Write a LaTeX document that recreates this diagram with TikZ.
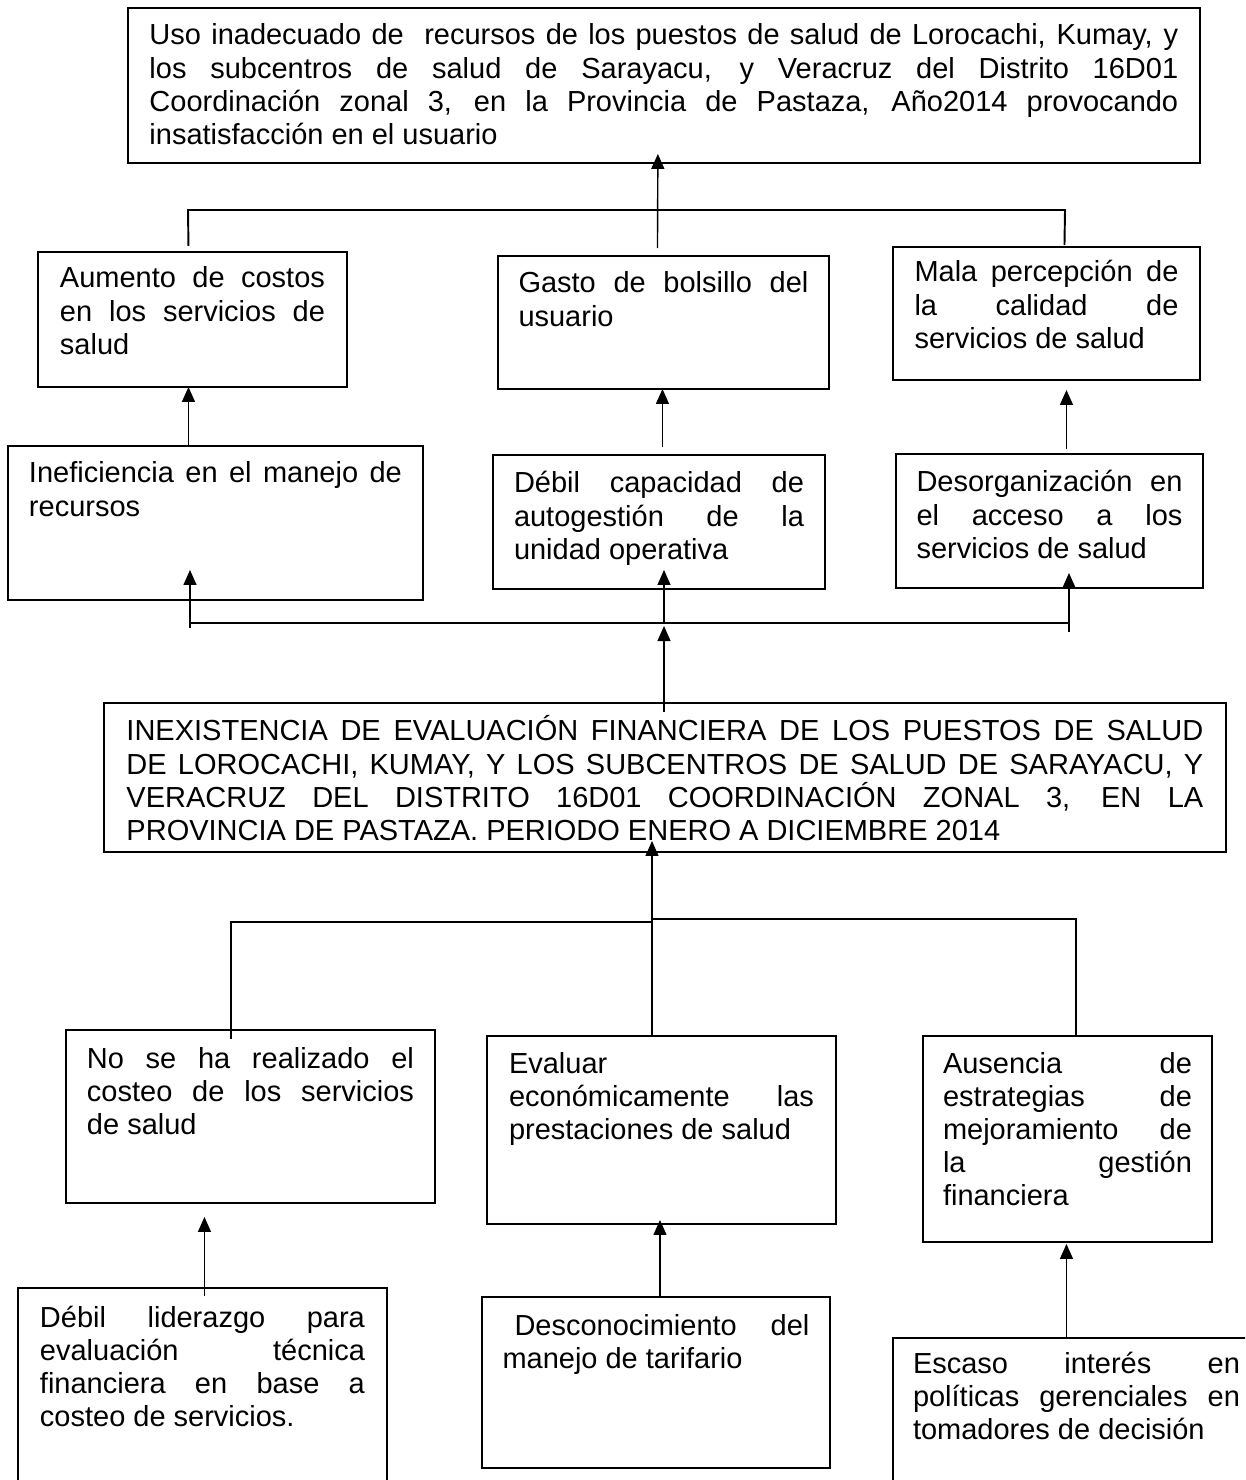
\documentclass[tikz,border=0pt]{standalone}
\usepackage{fontspec}
\setmainfont{Liberation Sans}
\usetikzlibrary{calc}
\usetikzlibrary{arrows.meta}
\tolerance=10000 \hbadness=10000 \hyphenpenalty=10000 \exhyphenpenalty=10000

\tikzset{
 caja/.style={draw, line width=1.1pt, anchor=north west, inner ysep=0pt, outer sep=0pt,
   align=justify, font=\fontsize{16.5pt}{18.8pt}\selectfont},
 enlace/.style={line width=0.8pt, >={Triangle[length=0.3cm,width=0.26cm]}},
 barra/.style={line width=1.5pt}
}

\begin{document}
\begin{tikzpicture}[x=0.02cm, y=-0.02cm]
\useasboundingbox (0,0) rectangle (1245,1480);
\fill[white] (0,0) rectangle (1245,1480);
\clip (0,0) rectangle (1245,1480);

% problema central y efectos
\node[caja, inner xsep=0.43cm, text width=20.58cm, text height=0.74cm, text depth=2.36cm] (T) at (128,8)
 {Uso inadecuado de\ \ recursos de los puestos de salud de Lorocachi, Kumay, y\linebreak
  los subcentros de salud de Sarayacu, y Veracruz del Distrito 16D01\linebreak
  Coordinación zonal 3, en la Provincia de Pastaza, Año2014 provocando\linebreak
  insatisfacción en el usuario};
\node[caja, inner xsep=0.44cm, text width=5.30cm, text height=0.72cm, text depth=1.98cm] (A) at (38,252)
 {Aumento de costos\linebreak en los servicios de\linebreak salud};
\node[caja, inner xsep=0.41cm, text width=5.80cm, text height=0.74cm, text depth=1.92cm] (B) at (498,256)
 {Gasto de bolsillo del\linebreak usuario};
\node[caja, inner xsep=0.43cm, text width=5.28cm, text height=0.70cm, text depth=1.96cm] (C) at (893,247)
 {Mala percepción de\linebreak la calidad de\linebreak servicios de salud};
\node[caja, inner xsep=0.42cm, text width=7.46cm, text height=0.74cm, text depth=2.34cm] (D) at (8,446)
 {Ineficiencia en el manejo de\linebreak recursos};
\node[caja, inner xsep=0.42cm, text width=5.80cm, text height=0.76cm, text depth=1.92cm] (E) at (493,455)
 {Débil capacidad de\linebreak autogestión de la\linebreak unidad operativa};
\node[caja, inner xsep=0.41cm, text width=5.32cm, text height=0.76cm, text depth=1.92cm] (F) at (896,454)
 {Desorganización en\linebreak el acceso a los\linebreak servicios de salud};
\node[caja, inner xsep=0.45cm, text width=21.54cm, text height=0.76cm, text depth=2.22cm] (G) at (104,703)
 {INEXISTENCIA DE EVALUACIÓN FINANCIERA DE LOS PUESTOS DE SALUD\linebreak
  DE LOROCACHI, KUMAY, Y LOS SUBCENTROS DE SALUD DE SARAYACU, Y\linebreak
  VERACRUZ DEL DISTRITO 16D01 COORDINACIÓN ZONAL 3, EN LA\linebreak
  PROVINCIA DE PASTAZA. PERIODO ENERO A DICIEMBRE 2014};

% causas
\node[caja, inner xsep=0.42cm, text width=6.54cm, text height=0.76cm, text depth=2.70cm] (H) at (66,1030)
 {No se ha realizado el\linebreak costeo de los servicios\linebreak de salud};
\node[caja, inner xsep=0.44cm, text width=6.10cm, text height=0.74cm, text depth=3.02cm] (I) at (487,1036)
 {Evaluar\linebreak económicamente las\linebreak prestaciones de salud};
\node[caja, inner xsep=0.40cm, text width=4.98cm, text height=0.74cm, text depth=3.38cm] (J) at (923,1036)
 {Ausencia de\linebreak estrategias de\linebreak mejoramiento de\linebreak la gestión\linebreak financiera};
\node[caja, inner xsep=0.44cm, text width=6.50cm, text height=0.78cm, text depth=3.62cm] (K) at (18,1288)
 {Débil liderazgo para\linebreak evaluación técnica\linebreak financiera en base a\linebreak costeo de servicios.};
\node[caja, inner xsep=0.41cm, text width=6.14cm, text height=0.76cm, text depth=2.66cm] (L) at (482,1297)
 {\hspace*{0.24cm}Desconocimiento del\linebreak manejo de tarifario};
\node[caja, inner xsep=0.40cm, text width=6.54cm, text height=0.70cm, text depth=3.30cm] (M) at (893,1338)
 {Escaso interés en\linebreak políticas gerenciales en\linebreak tomadores de decisión};

% conectores de efectos
\coordinate (eL) at (188,210);
\coordinate (eR) at (1065,210);
\draw[enlace, line width=1.1pt] ($(A.north)+(-4,-6)$) -- (eL) -- (eR) -- ($(C.north)+(18,-2)$);
\draw[enlace,->] ($(B.north)+(-6,-8)$) -- ($(T.south)+(-6,-9)$);
\draw[enlace,->] ($(A.south |- D.north)+(-4,0)$) -- ($(A.south)+(-4,0)$);
\draw[enlace,->] ($(B.south |- E.north)+(-1,-8)$) -- ($(B.south)+(-1,0)$);
\draw[enlace,->] ($(F.north)+(17,-5)$) -- ($(C.south -| F.north)+(17,10)$);

\coordinate (cL) at (190,623);
\coordinate (cC) at (664,623);
\coordinate (cR) at (1069,623);
\draw[barra] (cL) -- (cR);
\draw[enlace,->] ($(cL)+(0,5)$) -- ($(D.south -| cL)+(0,-30)$);
\draw[enlace,->] ($(cR)+(0,9)$) -- ($(F.south -| cR)+(0,-15)$);
\draw[enlace,->] (cC) -- ($(E.south -| cC)+(0,-19)$);
\draw[enlace,->] ($(G.north -| cC)+(0,9)$) -- ($(cC)+(0,3)$);

% conectores de causas
\coordinate (kL) at (231,922);
\coordinate (kC) at (652,920);
\coordinate (kR) at (1076,919);
\draw[enlace] ($(H.north -| kL)+(0,9)$) -- (kL) -- (kL -| kC);
\draw[enlace] ($(J.north -| kR)+(0,-1)$) -- (kR) -- (kR -| kC);
\draw[enlace,->] ($(I.north -| kC)+(0,-1)$) -- ($(G.south -| kC)+(0,-11)$);
\draw[enlace,->] ($(K.north)+(2,8)$) -- ($(H.south -| K.north)+(2,14)$);
\draw[enlace,->] ($(L.north)+(4,1)$) -- ($(I.south -| L.north)+(4,-4)$);
\draw[enlace,->] ($(J.south |- M.north)+(-1,0)$) -- ($(J.south)+(-1,2)$);
\end{tikzpicture}
\end{document}
